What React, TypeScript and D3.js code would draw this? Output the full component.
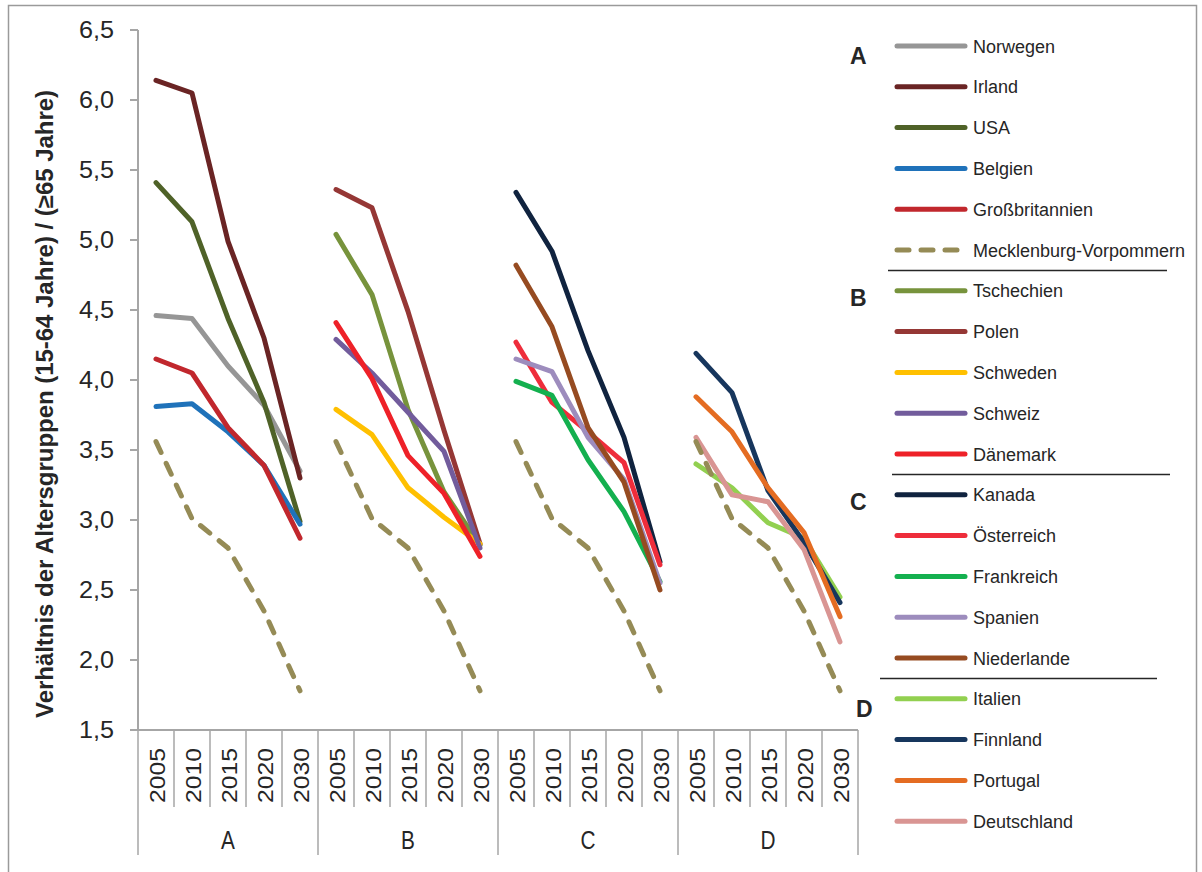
import * as d3 from 'd3';

const groups = ['A', 'B', 'C', 'D'];
const years = ['2005', '2010', '2015', '2020', '2030'];
const yTicks = [1.5, 2.0, 2.5, 3.0, 3.5, 4.0, 4.5, 5.0, 5.5, 6.0, 6.5];

// Mecklenburg-Vorpommern, shown in every group
const mecklenburg = [3.56, 3.01, 2.8, 2.35, 1.78];

// A
const norwegen = [4.46, 4.44, 4.1, 3.82, 3.35];
const irland = [6.14, 6.05, 4.99, 4.3, 3.3];
const usa = [5.41, 5.13, 4.44, 3.84, 2.99];
const belgien = [3.81, 3.83, 3.63, 3.39, 2.97];
const grossbritannien = [4.15, 4.05, 3.66, 3.39, 2.87];
// B
const tschechien = [5.04, 4.61, 3.79, 3.2, 2.82];
const polen = [5.36, 5.23, 4.49, 3.64, 2.83];
const schweden = [3.79, 3.61, 3.23, 3.02, 2.83];
const schweiz = [4.29, 4.05, 3.77, 3.49, 2.8];
const daenemark = [4.41, 4.01, 3.46, 3.19, 2.74];
// C
const kanada = [5.34, 4.92, 4.21, 3.59, 2.7];
const oesterreich = [4.27, 3.84, 3.63, 3.41, 2.68];
const frankreich = [3.99, 3.89, 3.43, 3.06, 2.56];
const spanien = [4.15, 4.06, 3.59, 3.29, 2.55];
const niederlande = [4.82, 4.38, 3.66, 3.27, 2.5];
// D
const italien = [3.4, 3.23, 2.98, 2.87, 2.45];
const finnland = [4.19, 3.91, 3.21, 2.84, 2.41];
const portugal = [3.88, 3.63, 3.23, 2.91, 2.31];
const deutschland = [3.59, 3.18, 3.13, 2.79, 2.13];

const MV_COLOR = '#958B56';

const series = [
  { name: 'Norwegen', group: 'A', color: '#969696', values: norwegen },
  { name: 'Irland', group: 'A', color: '#6A2424', values: irland },
  { name: 'USA', group: 'A', color: '#4F6228', values: usa },
  { name: 'Belgien', group: 'A', color: '#1F72BA', values: belgien },
  { name: 'Großbritannien', group: 'A', color: '#C1272D', values: grossbritannien },
  { name: 'Mecklenburg-Vorpommern', group: null, color: MV_COLOR, values: mecklenburg, dashed: true },
  { name: 'Tschechien', group: 'B', color: '#77933C', values: tschechien },
  { name: 'Polen', group: 'B', color: '#953735', values: polen },
  { name: 'Schweden', group: 'B', color: '#FFC000', values: schweden },
  { name: 'Schweiz', group: 'B', color: '#725C9C', values: schweiz },
  { name: 'Dänemark', group: 'B', color: '#EE2128', values: daenemark },
  { name: 'Kanada', group: 'C', color: '#10233F', values: kanada },
  { name: 'Österreich', group: 'C', color: '#EE2D3B', values: oesterreich },
  { name: 'Frankreich', group: 'C', color: '#14B04F', values: frankreich },
  { name: 'Spanien', group: 'C', color: '#9D8CBD', values: spanien },
  { name: 'Niederlande', group: 'C', color: '#964B21', values: niederlande },
  { name: 'Italien', group: 'D', color: '#92D050', values: italien },
  { name: 'Finnland', group: 'D', color: '#17365D', values: finnland },
  { name: 'Portugal', group: 'D', color: '#E46C22', values: portugal },
  { name: 'Deutschland', group: 'D', color: '#D99593', values: deutschland },
];

const W = 1202;
const H = 872;
const AXIS_C = '#A6A6A6';
const TEXT_C = '#262626';
const FONT = '"Liberation Sans", Arial, sans-serif';

const cats = groups.flatMap((g) => years.map((yr) => `${g}-${yr}`));
const x = d3.scaleBand().domain(cats).range([138, 858]).padding(0);
const y = d3.scaleLinear().domain([1.5, 6.5]).range([730, 30]);
const cx = (g: string, i: number) => (x(`${g}-${years[i]}`) as number) + x.bandwidth() / 2;

const line = (g: string, vals: number[]) =>
  d3.line<number>().x((_, i) => cx(g, i)).y((v) => y(v))(vals) as string;

export default function App() {
  const bw = x.bandwidth();
  const legendTop = 46;
  const legendStep = 40.8;
  const separators = [
    { after: 5, x1: 888, x2: 1167 },
    { after: 10, x1: 892, x2: 1170 },
    { after: 15, x1: 880, x2: 1157 },
  ];
  const letters = [
    { t: 'A', x: 850, y: 64 },
    { t: 'B', x: 850, y: 306 },
    { t: 'C', x: 850, y: 510 },
    { t: 'D', x: 856, y: 717 },
  ];

  return (
    <div style={{ position: 'absolute', left: 0, top: 0 }}>
      <svg width={W} height={H} style={{ display: 'block', background: '#fff' }} fontFamily={FONT}>
        <rect x={8.5} y={5.5} width={1188} height={880} fill="none" stroke="#9A9A9A" strokeWidth={1.5} />

        {/* y axis */}
        <line x1={138} x2={138} y1={y(6.5)} y2={y(1.5)} stroke={AXIS_C} strokeWidth={2} />
        {yTicks.map((t) => (
          <g key={t}>
            <line x1={130} x2={138} y1={y(t)} y2={y(t)} stroke={AXIS_C} strokeWidth={2} />
            <text
              x={114}
              y={y(t) + 8}
              textAnchor="end"
              fontSize={24}
              fill={TEXT_C}
              textLength={35}
              lengthAdjust="spacingAndGlyphs"
            >
              {t.toFixed(1).replace('.', ',')}
            </text>
          </g>
        ))}
        <text
          transform={`translate(53,404) rotate(-90)`}
          textAnchor="middle"
          fontSize={23}
          fontWeight="bold"
          fill={TEXT_C}
          textLength={628}
          lengthAdjust="spacingAndGlyphs"
        >
          Verhältnis der Altersgruppen (15-64 Jahre) / (≥65 Jahre)
        </text>

        {/* category axis */}
        <line x1={138} x2={858} y1={730} y2={730} stroke={AXIS_C} strokeWidth={2} />
        {cats.map((c, i) => {
          const x0 = x(c) as number;
          const isGroupStart = i % years.length === 0;
          return (
            <g key={c}>
              <line x1={x0} x2={x0} y1={730} y2={isGroupStart ? 855 : 807} stroke={AXIS_C} strokeWidth={1.5} />
              <text
                transform={`translate(${x0 + bw / 2 + 8.5},803) rotate(-90)`}
                fontSize={22.5}
                fill={TEXT_C}
                textLength={55}
                lengthAdjust="spacingAndGlyphs"
              >
                {c.split('-')[1]}
              </text>
            </g>
          );
        })}
        <line x1={858} x2={858} y1={730} y2={855} stroke={AXIS_C} strokeWidth={1.5} />
        {groups.map((g) => (
          <text
            key={g}
            x={cx(g, 2)}
            y={849}
            textAnchor="middle"
            fontSize={26}
            fill={TEXT_C}
            transform={`translate(${cx(g, 2)},0) scale(0.8,1) translate(${-cx(g, 2)},0)`}
          >
            {g}
          </text>
        ))}

        {/* series */}
        {groups.map((g) => (
          <g key={g}>
            {series
              .filter((s) => s.group === g)
              .map((s) => (
                <path
                  key={s.name}
                  d={line(g, s.values)}
                  fill="none"
                  stroke={s.color}
                  strokeWidth={5}
                  strokeLinejoin="round"
                  strokeLinecap="round"
                />
              ))}
            <path
              d={line(g, mecklenburg)}
              fill="none"
              stroke={MV_COLOR}
              strokeWidth={5}
              strokeLinecap="round"
              strokeDasharray="12 12"
            />
          </g>
        ))}

        {/* legend */}
        {series.map((s, i) => {
          const ly = legendTop + i * legendStep;
          return (
            <g key={s.name}>
              <line
                x1={897}
                x2={965}
                y1={ly}
                y2={ly}
                stroke={s.color}
                strokeWidth={5}
                strokeLinecap="round"
                strokeDasharray={s.dashed ? '12 12' : undefined}
              />
              <text x={973} y={ly + 6.5} fontSize={18} fill={TEXT_C}>
                {s.name}
              </text>
            </g>
          );
        })}
        {separators.map((sp) => {
          const sy = legendTop + (sp.after + 0.5) * legendStep;
          return <line key={sp.after} x1={sp.x1} x2={sp.x2} y1={sy} y2={sy} stroke="#262626" strokeWidth={1.5} />;
        })}
        {letters.map((l) => (
          <text key={l.t} x={l.x} y={l.y} fontSize={23} fontWeight="bold" fill={TEXT_C}>
            {l.t}
          </text>
        ))}
      </svg>
    </div>
  );
}
